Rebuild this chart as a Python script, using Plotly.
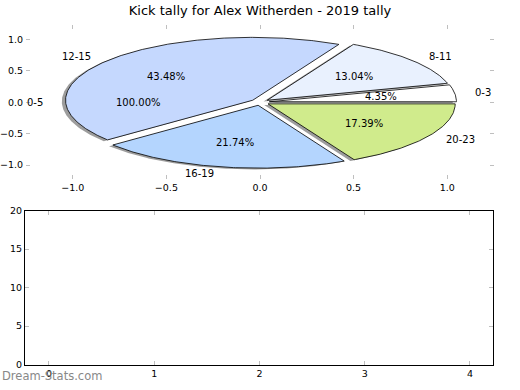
import numpy as np
import plotly.graph_objects as go

# ---- data ----
title = "Kick tally for Alex Witherden - 2019 tally"
labels = ["0-3", "8-11", "12-15", "16-19", "20-23"]
values = [1, 3, 10, 5, 4]
colors = ["#ffffff", "#e9f1fe", "#c5d8fe", "#b4d5fe", "#d0eb8c"]
extra_labels = ["0-5"]
extra_values = [1]
explode = 0.05
x_ticks = [-1.0, -0.5, 0.0, 0.5, 1.0]
y_ticks = [-1.0, -0.5, 0.0, 0.5, 1.0]
bottom_x_ticks = [0, 1, 2, 3, 4]
bottom_y_ticks = [0, 5, 10, 15, 20]

FONT = "DejaVu Sans"
fig = go.Figure()
annotations = []


def pie_geometry(vals):
    vals = np.asarray(vals, dtype=float)
    fr = vals / vals.sum()
    out = []
    t1 = 0.0
    for f in fr:
        t2 = t1 + 360.0 * f
        mid = np.deg2rad((t1 + t2) / 2)
        cx, cy = explode * np.cos(mid), explode * np.sin(mid)
        out.append((t1, t2, mid, cx, cy, f))
        t1 = t2
    return out


def wedge_xy(t1, t2, cx, cy, dx=0.0, dy=0.0):
    th = np.deg2rad(np.linspace(t1, t2, max(int(abs(t2 - t1)), 2) * 2 + 2))
    xs = np.concatenate([[cx], cx + np.cos(th), [cx]]) + dx
    ys = np.concatenate([[cy], cy + np.sin(th), [cy]]) + dy
    return xs, ys


geo = pie_geometry(values)
# shadows
for (t1, t2, mid, cx, cy, f) in geo:
    xs, ys = wedge_xy(t1, t2, cx, cy, -0.02, -0.02)
    fig.add_trace(go.Scatter(x=xs, y=ys, fill="toself", mode="lines",
                             line=dict(width=0), fillcolor="rgba(60,60,60,0.5)",
                             hoverinfo="skip", showlegend=False, xaxis="x", yaxis="y"))
# wedges
for (t1, t2, mid, cx, cy, f), lab, col in zip(geo, labels, colors):
    xs, ys = wedge_xy(t1, t2, cx, cy)
    fig.add_trace(go.Scatter(x=xs, y=ys, fill="toself", mode="lines",
                             line=dict(width=0.8, color="black"), fillcolor=col,
                             name=lab, showlegend=False, xaxis="x", yaxis="y"))


def add_labels(geo, labs):
    for (t1, t2, mid, cx, cy, f), lab in zip(geo, labs):
        lx, ly = cx + 1.1 * np.cos(mid), cy + 1.1 * np.sin(mid)
        annotations.append(dict(x=lx, y=ly, xref="x", yref="y", text=lab,
                                showarrow=False, xanchor="left" if lx > 0 else "right",
                                yanchor="middle", font=dict(family=FONT, size=10, color="black")))
        px, py = cx + 0.6 * np.cos(mid), cy + 0.6 * np.sin(mid)
        annotations.append(dict(x=px, y=py, xref="x", yref="y", text="%.2f%%" % (100 * f),
                                showarrow=False, xanchor="center", yanchor="middle",
                                font=dict(family=FONT, size=10, color="black")))


add_labels(geo, labels)
add_labels(pie_geometry(extra_values), extra_labels)

# empty bottom axes
fig.add_trace(go.Scatter(x=[], y=[], mode="markers", showlegend=False, xaxis="x2", yaxis="y2"))

annotations.append(dict(x=0, y=1 - 381 / 390, xref="paper", yref="paper", text="Dream-Stats.com",
                        showarrow=False, xanchor="left", yanchor="middle",
                        font=dict(family=FONT, size=11.5, color="#888888")))

tick_common = dict(ticks="inside", ticklen=4, tickwidth=1, tickcolor="#bfbfbf",
                   showgrid=False, zeroline=False,
                   tickfont=dict(family=FONT, size=9.5, color="black"))

fig.update_layout(
    width=520, height=390,
    margin=dict(l=0, r=0, t=0, b=0),
    paper_bgcolor="white", plot_bgcolor="white",
    title=dict(text=title, x=0.5, xanchor="center", y=1 - 10 / 390, yanchor="middle",
               font=dict(family=FONT, size=13, color="black")),
    xaxis=dict(domain=[26 / 520, 494 / 520], range=[-1.25, 1.25], tickvals=x_ticks,
               tickformat=".1f", showline=True, linecolor="rgba(0,0,0,0)", mirror="ticks",
               anchor="y", **tick_common),
    yaxis=dict(domain=[1 - 178 / 390, 1 - 20 / 390], range=[-1.221, 1.221], tickvals=y_ticks,
               tickformat=".1f", showline=True, linecolor="rgba(0,0,0,0)", mirror="ticks",
               anchor="x", **tick_common),
    xaxis2=dict(domain=[25 / 520, 493 / 520], range=[-0.228, 4.219], tickvals=bottom_x_ticks,
                showline=True, linecolor="black", linewidth=1, mirror="ticks", anchor="y2",
                **tick_common),
    yaxis2=dict(domain=[1 - 369 / 390, 1 - 210.5 / 390], range=[0, 20], tickvals=bottom_y_ticks,
                showline=True, linecolor="black", linewidth=1, mirror="ticks", anchor="x2",
                **tick_common),
    annotations=annotations,
)

fig.write_html("out.html")
